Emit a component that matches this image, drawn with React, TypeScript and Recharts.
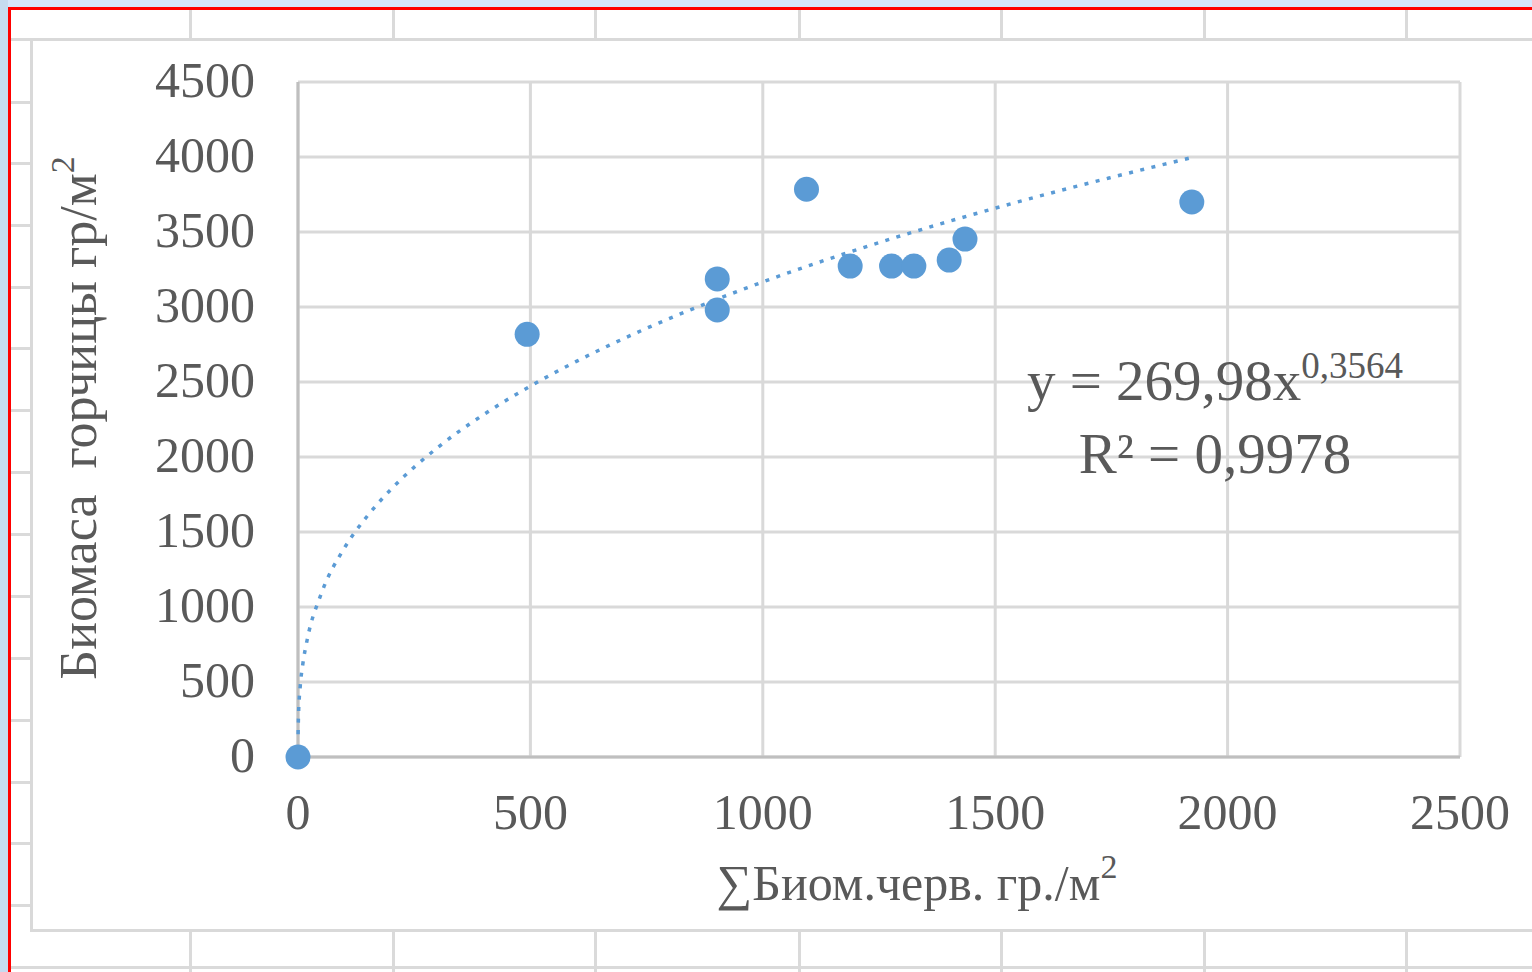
import React from 'react';
import { ScatterChart, Scatter, XAxis, YAxis, CartesianGrid } from 'recharts';

// values
const wormBiomass = [0, 493, 902, 902, 1094, 1188, 1277, 1325, 1401, 1435, 1923];
const mustardBiomass = [0, 2818, 3187, 2980, 3785, 3273, 3273, 3273, 3313, 3453, 3700];

// dotted power trendline
const trendX = [0.2, 1, 5, 10, 20, 50, 100, 150, 200, 300, 400, 500, 600, 750, 900, 1000, 1250, 1500, 1750, 1925];
const trendY = [152, 270, 480, 612, 785, 1088, 1394, 1610, 1784, 2062, 2284, 2473, 2639, 2858, 3050, 3167, 3429, 3659, 3864, 3998];

const xTicks = [0, 500, 1000, 1500, 2000, 2500];
const yTicks = [0, 500, 1000, 1500, 2000, 2500, 3000, 3500, 4000, 4500];

const points = wormBiomass.map((x, i) => ({ x, y: mustardBiomass[i] }));
const trend = trendX.map((x, i) => ({ x, y: trendY[i] }));

// spreadsheet cell grid behind the chart object
const sheetRows = [39, 102, 163, 225, 287, 348, 410, 472, 534, 596, 658, 720, 782, 843, 905, 967];
const sheetCols = [190, 393, 595, 799, 1001, 1204, 1406];

const FONT = '"Liberation Serif", "Times New Roman", serif';
const TEXT = '#595959';
const BLUE = '#5b9bd5';

const YTitle = () => (
  <text
    x={96}
    y={418}
    transform="rotate(-90 96 418)"
    textAnchor="middle"
    fill={TEXT}
    fontFamily={FONT}
    fontSize={52}
    style={{ whiteSpace: 'pre' }}
  >
    {'Биомаса  горчицы гр/м'}
    <tspan fontSize={34} dy={-22}>2</tspan>
  </text>
);

const XTitle = () => (
  <text x={917} y={900} textAnchor="middle" fill={TEXT} fontFamily={FONT} fontSize={50}>
    {'∑Биом.черв. гр./м'}
    <tspan fontSize={34} dy={-22}>2</tspan>
  </text>
);

const Dot = (p: any) => <circle cx={p.cx} cy={p.cy} r={12.5} fill={BLUE} />;
const NoDot = () => <g />;

export default function App() {
  return (
    <div style={{ position: 'absolute', left: 0, top: 0, width: 1532, height: 972, overflow: 'hidden', background: '#fff' }}>
      <div style={{ position: 'absolute', left: 0, top: 0, width: 1532, height: 7, background: '#d6e6fb' }} />
      <div style={{ position: 'absolute', left: 0, top: 0, width: 8, height: 972, background: '#c6dbf0' }} />
      {sheetRows.map((y) => (
        <div key={'r' + y} style={{ position: 'absolute', left: 11, top: y - 1, width: 1532, height: 3, background: '#dadada' }} />
      ))}
      {sheetCols.map((x) => (
        <div key={'c' + x} style={{ position: 'absolute', left: x - 1, top: 10, width: 3, height: 972, background: '#dadada' }} />
      ))}
      <div style={{ position: 'absolute', left: 8, top: 7, width: 1532, height: 3, background: '#ff0000' }} />
      <div style={{ position: 'absolute', left: 8, top: 7, width: 3, height: 972, background: '#ff0000' }} />
      <div
        style={{
          position: 'absolute', left: 30, top: 38, width: 1600, height: 894,
          background: '#fff', border: '3px solid #d9d9d9', boxSizing: 'border-box',
        }}
      />
      <div style={{ position: 'absolute', left: 0, top: 0 }}>
        <ScatterChart width={1532} height={972} margin={{ top: 82, right: 72, bottom: 115, left: 0 }}>
          <CartesianGrid stroke="#d9d9d9" strokeWidth={3} />
          <XAxis
            type="number"
            dataKey="x"
            domain={[0, 2500]}
            ticks={xTicks}
            height={100}
            tickSize={0}
            tickMargin={36}
            axisLine={{ stroke: '#bfbfbf', strokeWidth: 3 }}
            tick={{ fill: TEXT, fontSize: 50, fontFamily: FONT }}
            label={{ content: XTitle }}
          />
          <YAxis
            type="number"
            dataKey="y"
            domain={[0, 4500]}
            ticks={yTicks}
            width={298}
            tickSize={0}
            tickMargin={43}
            axisLine={{ stroke: '#bfbfbf', strokeWidth: 3 }}
            tick={{ fill: TEXT, fontSize: 50, fontFamily: FONT, dy: -3 }}
            label={{ content: YTitle }}
          />
          <Scatter
            data={trend}
            line={{ stroke: BLUE, strokeWidth: 3.5, strokeDasharray: '4 7.5' }}
            lineJointType="monotoneX"
            shape={NoDot}
            isAnimationActive={false}
          />
          <Scatter data={points} fill={BLUE} shape={Dot} isAnimationActive={false} />
        </ScatterChart>
      </div>
      <div
        style={{
          position: 'absolute', left: 1000, top: 348, width: 430, textAlign: 'center',
          fontFamily: FONT, fontSize: 57, color: TEXT, lineHeight: '66px',
        }}
      >
        <div>
          y = 269,98x<sup style={{ fontSize: 37, verticalAlign: 0, position: 'relative', top: -22 }}>0,3564</sup>
        </div>
        <div>R² = 0,9978</div>
      </div>
    </div>
  );
}
